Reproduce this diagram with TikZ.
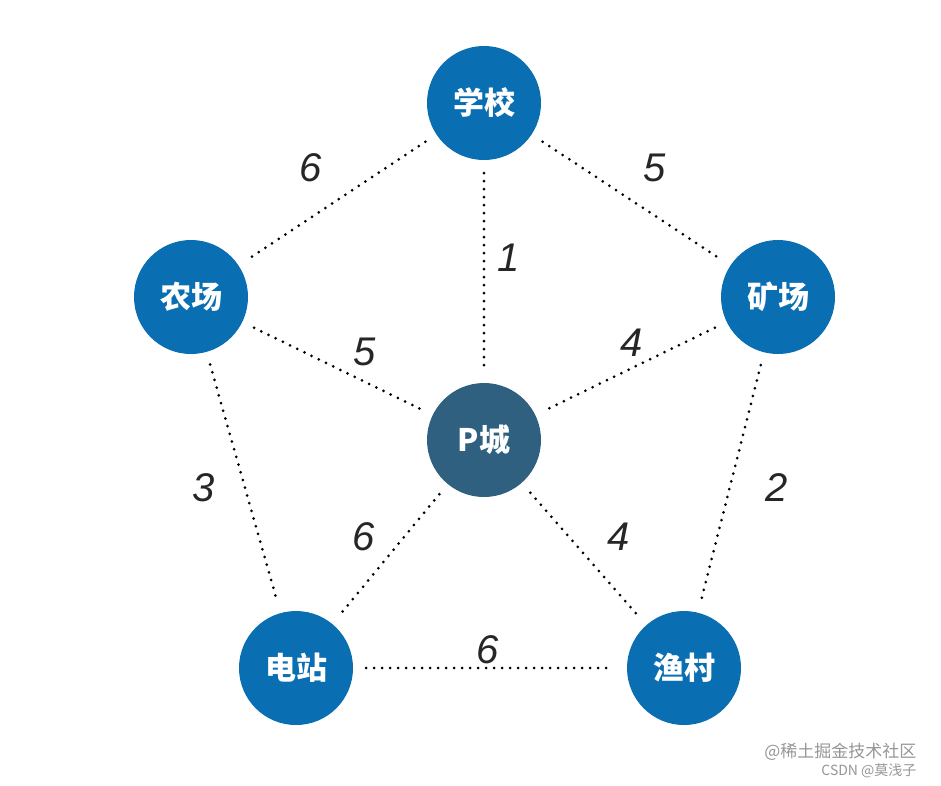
\documentclass[tikz,border=0pt]{standalone}
\usepackage{fontspec}
\setmainfont{Liberation Sans}
\newfontfamily\cjk{Noto Sans CJK SC}
\definecolor{nodeblue}{RGB}{9,110,178}
\definecolor{nodedark}{RGB}{47,96,128}
\definecolor{wmgray}{RGB}{150,150,150}
\begin{document}
\begin{tikzpicture}[x=1pt,y=-1pt,
  city/.style={circle,fill=nodeblue,minimum size=114pt,inner sep=0pt,text=white,font=\cjk\bfseries\fontsize{31}{31}\selectfont},
  center/.style={city,fill=nodedark},
  road/.style={line width=3pt,line cap=round,dash pattern=on 0pt off 8pt,shorten >=13pt,shorten <=13pt},
  weight/.style={font=\fontsize{40}{40}\selectfont\itshape,text=black!85}]
\useasboundingbox (0,0) rectangle (941,785);
\fill[white] (0,0) rectangle (941,785);
\node[city] (xx) at (484,103) {学校};
\node[city] (nc) at (191,297) {农场};
\node[city] (kc) at (778,297) {矿场};
\node[center] (pc) at (484,440) {P城};
\node[city] (dz) at (296,668) {电站};
\node[city] (yc) at (684,668) {渔村};
\draw[road] (xx) -- (nc);
\draw[road] (xx) -- (kc);
\draw[road] (xx) -- (pc);
\draw[road] (nc) -- (pc);
\draw[road] (kc) -- (pc);
\draw[road] (nc) -- (dz);
\draw[road] (kc) -- (yc);
\draw[road] (pc) -- (dz);
\draw[road] (pc) -- (yc);
\draw[road] (dz) -- (yc);
\node[weight] (w1) at (311,168) {6};
\node[weight] (w2) at (655,168) {5};
\node[weight] (w3) at (509,258) {1};
\node[weight] (w4) at (365,352) {5};
\node[weight] (w5) at (632,343) {4};
\node[weight] (w6) at (204,488) {3};
\node[weight] (w7) at (777,488) {2};
\node[weight] (w8) at (364,537) {6};
\node[weight] (w9) at (619,537) {4};
\node[weight] (w10) at (488,650) {6};
\node[anchor=east,text=wmgray,font=\cjk\fontsize{17}{17}\selectfont] (wm1) at (920,752) {@稀土掘金技术社区};
\node[anchor=east,text=wmgray,font=\cjk\fontsize{14}{14}\selectfont] (wm2) at (920,771) {CSDN @莫浅子};
\end{tikzpicture}
\end{document}
